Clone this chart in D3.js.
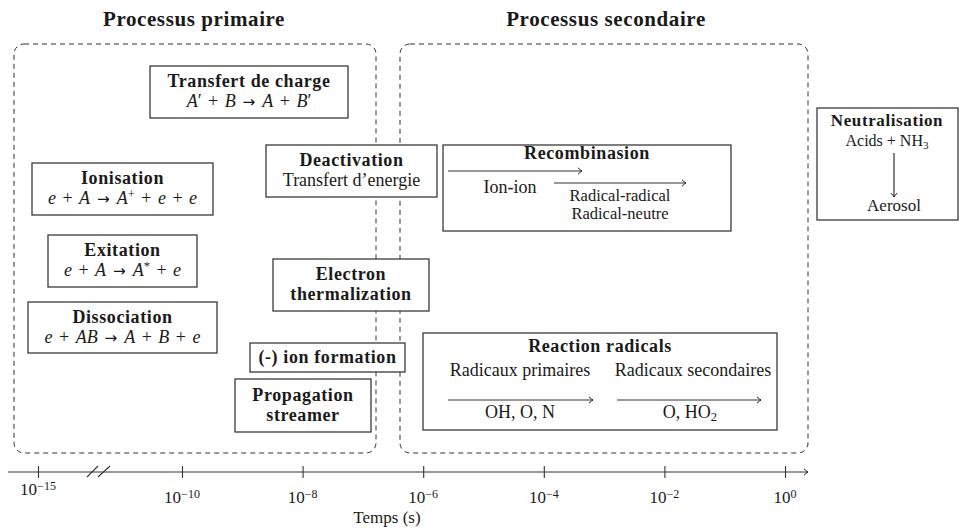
<!DOCTYPE html>
<html>
<head>
<meta charset="utf-8">
<script src="https://cdn.jsdelivr.net/npm/d3@7"></script>
<style>
  body { margin: 0; background: #fff; }
  svg { display: block; }
  text { font-family: "Liberation Serif", "DejaVu Serif", serif; fill: #1a1a1a; }
  .bold { font-weight: bold; letter-spacing: 0.6px; }
</style>
</head>
<body>
<svg width="959" height="529"></svg>
<script>
const svg = d3.select("svg");

// time axis: exponents of 10 (seconds), -15 sits before the axis break
const tickExponents = [-15, -10, -8, -6, -4, -2, 0];
const axisTitle = "Temps (s)";

// group headings
const groupTitles = ["Processus primaire", "Processus secondaire"];

// process boxes: title + body lines, each line a list of [text, style] runs
// styles: b = bold, r = roman, i = italic (math), a = arrow, sup / sub
const processes = [
  { name: "Transfert de charge", lines: [[["A", "i"], ["′", "r"], [" + ", "r"], ["B", "i"], [" → ", "a"], ["A", "i"], [" + ", "r"], ["B", "i"], ["′", "r"]]] },
  { name: "Ionisation", lines: [[["e", "i"], [" + ", "r"], ["A", "i"], [" → ", "a"], ["A", "i"], ["+", "sup"], [" + ", "r"], ["e", "i"], [" + ", "r"], ["e", "i"]]] },
  { name: "Exitation", lines: [[["e", "i"], [" + ", "r"], ["A", "i"], [" → ", "a"], ["A", "i"], ["*", "sup"], [" + ", "r"], ["e", "i"]]] },
  { name: "Dissociation", lines: [[["e", "i"], [" + ", "r"], ["AB", "i"], [" → ", "a"], ["A", "i"], [" + ", "r"], ["B", "i"], [" + ", "r"], ["e", "i"]]] },
  { name: "Deactivation", lines: [[["Transfert d’energie", "r"]]] },
  { name: "Electron", lines: [[["thermalization", "b"]]] },
  { name: "(-) ion formation", lines: [] },
  { name: "Propagation", lines: [[["streamer", "b"]]] }
];

// layout of the boxes (pixels), same order as processes
const boxLayout = [
  { x: 150, y: 66, w: 198, h: 52 },
  { x: 32, y: 163, w: 181, h: 52 },
  { x: 48, y: 235, w: 149, h: 52 },
  { x: 28, y: 302, w: 189, h: 51 },
  { x: 266, y: 145, w: 171, h: 52 },
  { x: 273, y: 259, w: 156, h: 52 },
  { x: 250, y: 343, w: 155, h: 29 },
  { x: 235, y: 379, w: 136, h: 53 }
];

const recombination = { title: "Recombinasion", first: ["Ion-ion"], second: ["Radical-radical", "Radical-neutre"] };
const radicals = {
  title: "Reaction radicals",
  heads: ["Radicaux primaires", "Radicaux secondaires"],
  species: [[["OH, O, N", "r"]], [["O, HO", "r"], ["2", "sub"]]]
};
const neutralisation = { title: "Neutralisation", from: [["Acids + NH", "r"], ["3", "sub"]], to: "Aerosol" };

// ---------------- helpers ----------------
const fs = 18;

function rich(g, x, y, runs, size, anchor) {
  const sz = size || fs;
  const t = g.append("text")
    .attr("x", x).attr("y", y)
    .attr("text-anchor", anchor || "middle")
    .attr("font-size", sz);
  runs.forEach(([txt, st]) => {
    const s = t.append("tspan").text(txt);
    if (st === "b") s.attr("class", "bold");
    if (st === "i") s.attr("font-style", "italic");
    if (st === "a") s.attr("font-family", "DejaVu Sans").attr("font-size", sz * 0.85);
    if (st === "sup") s.attr("font-size", sz * 0.7).attr("baseline-shift", "45%");
    if (st === "sub") s.attr("font-size", sz * 0.7).attr("baseline-shift", "-25%");
  });
  return t;
}

function label(x, y, txt, bold, size) {
  return svg.append("text")
    .attr("x", x).attr("y", y)
    .attr("text-anchor", "middle")
    .attr("font-size", size || fs)
    .attr("class", bold ? "bold" : null)
    .text(txt);
}

function box(x, y, w, h) {
  svg.append("rect")
    .attr("x", x).attr("y", y).attr("width", w).attr("height", h)
    .attr("fill", "#fff").attr("stroke", "#3a3a3a").attr("stroke-width", 1.3);
}

const defs = svg.append("defs");
defs.append("marker")
  .attr("id", "tip").attr("viewBox", "-6 -5 8 10")
  .attr("refX", 0).attr("refY", 0)
  .attr("markerWidth", 8).attr("markerHeight", 10)
  .attr("markerUnits", "userSpaceOnUse")
  .attr("orient", "auto")
  .append("path")
  .attr("d", "M-4,-3.2 Q-1.5,-0.8 0,0 Q-1.5,0.8 -4,3.2")
  .attr("fill", "none").attr("stroke", "#222").attr("stroke-width", 1);

function arrow(x1, y1, x2, y2) {
  svg.append("line")
    .attr("x1", x1).attr("y1", y1).attr("x2", x2).attr("y2", y2)
    .attr("stroke", "#333").attr("stroke-width", 1.2)
    .attr("marker-end", "url(#tip)");
}

// ---------------- group frames ----------------
const frames = [
  { x: 14, y: 44, w: 362, h: 409 },
  { x: 400, y: 44, w: 408, h: 409 }
];
frames.forEach((f, i) => {
  svg.append("rect")
    .attr("x", f.x).attr("y", f.y).attr("width", f.w).attr("height", f.h)
    .attr("rx", 10).attr("ry", 10)
    .attr("fill", "none").attr("stroke", "#333").attr("stroke-width", 1)
    .attr("stroke-dasharray", "5,4");
  label(i === 0 ? 194 : 606, 26, groupTitles[i], true, 21)
    .attr("letter-spacing", 1);
});

// ---------------- primary process boxes ----------------
processes.forEach((p, i) => {
  const b = boxLayout[i];
  box(b.x, b.y, b.w, b.h);
  const cx = b.x + b.w / 2;
  const nLines = 1 + p.lines.length;
  const y0 = b.y + b.h / 2 - (nLines - 1) * 10 + 5;
  label(cx, y0, p.name, true);
  p.lines.forEach((ln, j) => {
    const t = rich(svg, cx, y0 + 20 * (j + 1), ln, fs);
    // math lines get roomier spacing around operators
    if (ln.some(r => r[1] === "i")) t.attr("word-spacing", 2);
  });
});

// ---------------- recombination ----------------
box(443, 145, 288, 86);
label(587, 159, recombination.title, true);
arrow(448, 171, 582, 171);
arrow(554, 183, 686, 183);
recombination.first.forEach((t, j) => label(510, 193 + 15 * j, t));
recombination.second.forEach((t, j) => label(620, 200.5 + 18.5 * j, t, false, 16.5));

// ---------------- reaction radicals ----------------
box(423, 333, 354, 97);
label(600, 352, radicals.title, true);
const colX = [520, 693];
radicals.heads.forEach((t, j) => label(colX[j], 376, t));
arrow(448, 400, 593, 400);
arrow(617, 400, 761, 400);
radicals.species.forEach((runs, j) => rich(svg, colX[j] - (j ? 3 : 0), 418, runs, fs));

// ---------------- neutralisation ----------------
box(817, 108, 141, 112);
label(887, 126, neutralisation.title, true, 17);
rich(svg, 887, 146, neutralisation.from, 16);
arrow(894, 153, 894, 197);
label(894, 211, neutralisation.to, false, 17);

// ---------------- time axis ----------------
const axisY = 472;
const x = d3.scaleLinear().domain([-15, -10, 0]).range([38, 182, 785]);

svg.append("line")
  .attr("x1", 8).attr("y1", axisY).attr("x2", 808).attr("y2", axisY)
  .attr("stroke", "#333").attr("stroke-width", 1.2)
  .attr("marker-end", "url(#tip)");

const axisG = svg.append("g").attr("transform", `translate(0,${axisY})`)
  .call(d3.axisBottom(x).tickValues(tickExponents).tickSize(6).tickSizeOuter(0).tickFormat(""));
axisG.select(".domain").remove();
axisG.selectAll(".tick line")
  .attr("y1", -6).attr("y2", 6)
  .attr("stroke", "#333").attr("stroke-width", 1.1);

// axis break
[[87, 98], [98, 110]].forEach(([a, b]) => {
  svg.append("line")
    .attr("x1", a).attr("y1", axisY + 5).attr("x2", b).attr("y2", axisY - 6)
    .attr("stroke", "#333").attr("stroke-width", 1.1);
});

tickExponents.forEach(e => {
  const yy = e === -15 ? 495 : 503;
  const t = svg.append("text")
    .attr("x", x(e)).attr("y", yy)
    .attr("text-anchor", "middle").attr("font-size", 17);
  t.append("tspan").text("10");
  t.append("tspan").attr("font-size", 12).attr("baseline-shift", "40%")
    .text(e === 0 ? "0" : "−" + Math.abs(e));
});

label(387, 523, axisTitle, false, 17);
</script>
</body>
</html>
